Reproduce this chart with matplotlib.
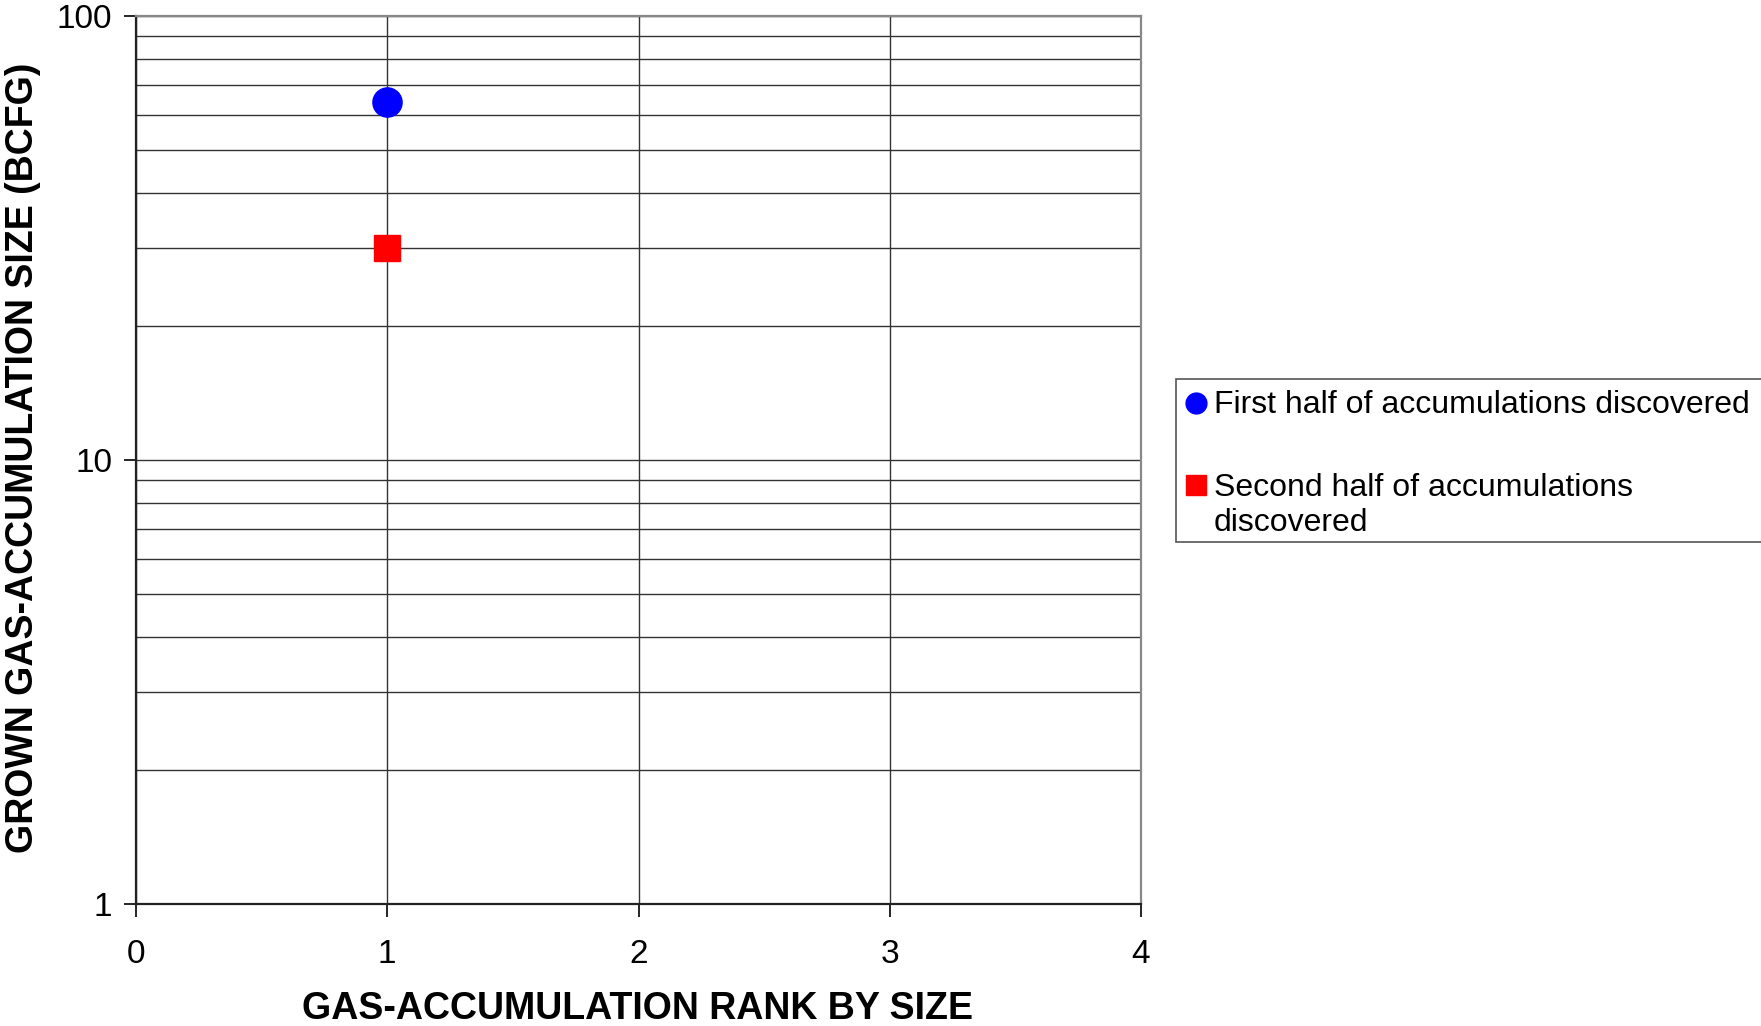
import matplotlib
matplotlib.use("Agg")
import matplotlib.pyplot as plt
from matplotlib.ticker import FixedLocator, NullFormatter, LogLocator
from matplotlib.patches import Rectangle
from matplotlib.lines import Line2D

plt.rcParams['font.family'] = ['Liberation Sans', 'DejaVu Sans']

# Data
first_rank = [1]
first_size = [64]
second_rank = [1]
second_size = [30]
x_ticks = [0, 1, 2, 3, 4]
y_ticks = [1, 10, 100]
labels = ["First half of accumulations discovered",
          "Second half of accumulations\ndiscovered"]
x_title = "GAS-ACCUMULATION RANK BY SIZE"
y_title = "GROWN GAS-ACCUMULATION SIZE (BCFG)"

W, H = 1761, 1026
fig = plt.figure(figsize=(W / 100, H / 100), dpi=100)
ax = fig.add_axes([136/W, 1 - 904/H, (1141-136)/W, (904-16)/H])

ax.set_yscale('log')
ax.set_xlim(0, 4)
ax.set_ylim(1, 100)

ax.yaxis.set_major_locator(FixedLocator(y_ticks))
ax.yaxis.set_minor_locator(LogLocator(base=10, subs=range(2, 10)))
ax.yaxis.set_minor_formatter(NullFormatter())
ax.set_yticks(y_ticks)
ax.set_yticklabels([str(v) for v in y_ticks])
ax.set_xticks(x_ticks)
ax.set_xticklabels([str(v) for v in x_ticks])

ax.grid(True, which='major', axis='both', color='#333333', linewidth=1.0)
ax.grid(True, which='minor', axis='y', color='#333333', linewidth=1.0)
ax.set_axisbelow(True)

ax.tick_params(axis='both', which='major', direction='out', length=9, width=1.2,
               labelsize=24, colors='black')
ax.tick_params(axis='x', which='major', pad=16)
ax.tick_params(axis='y', which='major', pad=8)
ax.tick_params(axis='y', which='minor', length=0)

for s in ['left', 'bottom']:
    ax.spines[s].set_color('#222222')
    ax.spines[s].set_linewidth(1.6)
for s in ['top', 'right']:
    ax.spines[s].set_color('#888888')
    ax.spines[s].set_linewidth(1.6)

ax.plot(first_rank, first_size, linestyle='none', marker='o', markersize=21,
        color='#0000ff', label=labels[0], clip_on=False, zorder=5)
ax.plot(second_rank, second_size, linestyle='none', marker='s', markersize=19,
        color='#ff0000', label=labels[1], clip_on=False, zorder=5)

# Axis titles placed explicitly
fig.text(638/W, 1 - 1009/H, x_title, fontsize=27, fontweight='bold',
         ha='center', va='center')
fig.text(23/W, 1 - 458/H, y_title, fontsize=27, fontweight='bold',
         ha='center', va='center', rotation=90)

# Legend (drawn manually to match the original layout)
fig.patches.append(Rectangle((1176/W, 1 - 542/H), 1.0, (542-379)/H,
                             transform=fig.transFigure, facecolor='white',
                             edgecolor='#555555', linewidth=1.2, zorder=1))
fig.lines.append(Line2D([1196/W], [1 - 403/H], transform=fig.transFigure,
                        marker='o', markersize=15, color='#0000ff', linestyle='none'))
fig.lines.append(Line2D([1196/W], [1 - 485/H], transform=fig.transFigure,
                        marker='s', markersize=14, color='#ff0000', linestyle='none'))
first_lines = labels[0].split("\n")
second_lines = labels[1].split("\n")
fig.text(1214/W, 1 - 405/H, first_lines[0], fontsize=23, va='center', ha='left')
fig.text(1214/W, 1 - 488/H, second_lines[0], fontsize=23, va='center', ha='left')
fig.text(1214/W, 1 - 523/H, second_lines[1], fontsize=23, va='center', ha='left')

fig.savefig("out.png", dpi=100, facecolor='white')
